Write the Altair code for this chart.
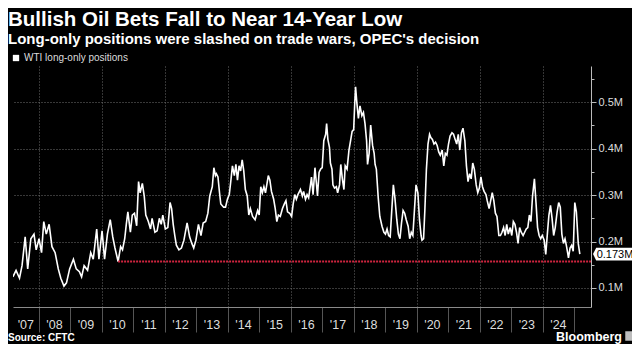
import altair as alt
import pandas as pd
import numpy as np

# ---------------- data ----------------
series_name = "WTI long-only positions"

# decimal years
dec_year = [
    2007.18, 2007.28, 2007.39, 2007.47, 2007.57, 2007.65, 2007.75, 2007.85, 2007.92,
    2008.01, 2008.09, 2008.16, 2008.24, 2008.33, 2008.42, 2008.52, 2008.62, 2008.70, 2008.80, 2008.88, 2008.98,
    2009.10, 2009.19, 2009.29, 2009.36, 2009.44, 2009.55, 2009.65, 2009.73, 2009.84, 2009.91,
    2010.01, 2010.09, 2010.18, 2010.27, 2010.35, 2010.42, 2010.52, 2010.60, 2010.66, 2010.73, 2010.78, 2010.83, 2010.91, 2010.97,
    2011.04, 2011.11, 2011.17, 2011.22, 2011.29, 2011.35, 2011.40, 2011.48, 2011.55, 2011.60, 2011.69, 2011.76, 2011.83, 2011.89, 2011.94,
    2012.02, 2012.10, 2012.17, 2012.22, 2012.27, 2012.32, 2012.37, 2012.45, 2012.53, 2012.61, 2012.71, 2012.79, 2012.86, 2012.92, 2012.99,
    2013.07, 2013.15, 2013.22, 2013.30, 2013.37, 2013.43, 2013.51, 2013.56, 2013.61, 2013.64, 2013.69, 2013.74, 2013.78, 2013.87, 2013.93, 2013.99,
    2014.05, 2014.09, 2014.15, 2014.21, 2014.26, 2014.31, 2014.36, 2014.41, 2014.46, 2014.51, 2014.56, 2014.62, 2014.67, 2014.72, 2014.79, 2014.87, 2014.95,
    2015.00, 2015.05, 2015.10, 2015.15, 2015.20, 2015.29, 2015.34, 2015.39, 2015.46, 2015.51, 2015.56, 2015.61, 2015.67, 2015.74, 2015.80, 2015.85, 2015.90, 2015.97,
    2016.03, 2016.08, 2016.13, 2016.18, 2016.23, 2016.31, 2016.37, 2016.41, 2016.47, 2016.52, 2016.57, 2016.62, 2016.66, 2016.71, 2016.77, 2016.82, 2016.85, 2016.90, 2016.95,
    2017.00, 2017.05, 2017.11, 2017.14, 2017.18, 2017.23, 2017.26, 2017.31, 2017.34, 2017.39, 2017.45, 2017.49, 2017.55, 2017.59, 2017.64, 2017.69, 2017.73, 2017.79, 2017.85, 2017.90, 2017.95,
    2018.00, 2018.03, 2018.06, 2018.10, 2018.15, 2018.20, 2018.26, 2018.31, 2018.36, 2018.41, 2018.44, 2018.49, 2018.54, 2018.60, 2018.65, 2018.68, 2018.72, 2018.78, 2018.83, 2018.90, 2018.96,
    2019.01, 2019.06, 2019.11, 2019.16, 2019.21, 2019.26, 2019.31, 2019.37, 2019.42, 2019.47, 2019.52, 2019.57, 2019.62, 2019.67, 2019.73, 2019.78, 2019.83, 2019.88, 2019.93, 2019.98,
    2020.04, 2020.09, 2020.14, 2020.17, 2020.22, 2020.26, 2020.31, 2020.36, 2020.41, 2020.45, 2020.50, 2020.55, 2020.60, 2020.65, 2020.70, 2020.75, 2020.81, 2020.86, 2020.91, 2020.96,
    2021.01, 2021.06, 2021.12, 2021.17, 2021.22, 2021.27, 2021.32, 2021.37, 2021.42, 2021.47, 2021.53, 2021.58, 2021.63, 2021.68, 2021.73, 2021.78, 2021.83, 2021.89, 2021.94, 2021.99,
    2022.04, 2022.09, 2022.14, 2022.20, 2022.24, 2022.30, 2022.35, 2022.40, 2022.45, 2022.50, 2022.55, 2022.61, 2022.66, 2022.71, 2022.76, 2022.81, 2022.86, 2022.91, 2022.97,
    2023.02, 2023.07, 2023.12, 2023.17, 2023.22, 2023.27, 2023.32, 2023.38, 2023.43, 2023.48, 2023.53, 2023.58, 2023.63, 2023.68, 2023.74, 2023.79, 2023.84, 2023.89, 2023.94, 2023.99,
    2024.05, 2024.10, 2024.15, 2024.20, 2024.25, 2024.30, 2024.35, 2024.40, 2024.46, 2024.51, 2024.56, 2024.61, 2024.66, 2024.71, 2024.76, 2024.82, 2024.87, 2024.92, 2024.97,
    2025.02, 2025.07, 2025.13, 2025.18,
]

# long-only positions, millions of contracts
positions_m = [
    0.124, 0.138, 0.121, 0.148, 0.210, 0.141, 0.206, 0.216, 0.182,
    0.206, 0.176, 0.243, 0.216, 0.237, 0.189, 0.176, 0.141, 0.121, 0.104, 0.111, 0.141,
    0.162, 0.141, 0.135, 0.124, 0.148, 0.138, 0.176, 0.162, 0.227, 0.162,
    0.223, 0.162, 0.216, 0.247, 0.210, 0.186, 0.157, 0.189, 0.182, 0.206, 0.237, 0.264, 0.220, 0.257,
    0.261, 0.234, 0.329, 0.305, 0.325, 0.298, 0.257, 0.243, 0.227, 0.250, 0.220, 0.223, 0.250, 0.237, 0.257,
    0.227, 0.230, 0.284, 0.271, 0.237, 0.213, 0.192, 0.182, 0.186, 0.203, 0.240, 0.210, 0.196, 0.186, 0.203,
    0.237, 0.213, 0.240, 0.243, 0.261, 0.298, 0.318, 0.359, 0.342, 0.346, 0.339, 0.305, 0.281, 0.274, 0.274, 0.291,
    0.301, 0.325, 0.363, 0.342, 0.366, 0.332, 0.363, 0.352, 0.376, 0.352, 0.312, 0.298, 0.257, 0.271, 0.254, 0.247, 0.267,
    0.257, 0.318, 0.305, 0.318, 0.305, 0.342, 0.332, 0.308, 0.291, 0.271, 0.243, 0.257, 0.254, 0.271, 0.281, 0.288, 0.264, 0.261,
    0.254, 0.281, 0.301, 0.291, 0.301, 0.312, 0.298, 0.308, 0.291, 0.301, 0.294, 0.318, 0.339, 0.301, 0.359, 0.322, 0.298, 0.349, 0.356,
    0.359, 0.417, 0.431, 0.454, 0.420, 0.403, 0.369, 0.356, 0.322, 0.315, 0.318, 0.305, 0.322, 0.366, 0.335, 0.312, 0.363, 0.356, 0.397, 0.417, 0.437,
    0.441, 0.492, 0.533, 0.499, 0.465, 0.492, 0.471, 0.478, 0.454, 0.417, 0.366, 0.390, 0.451, 0.407, 0.390, 0.366, 0.356, 0.294, 0.254, 0.233, 0.220,
    0.216, 0.227, 0.213, 0.210, 0.267, 0.322, 0.294, 0.247, 0.216, 0.206, 0.240, 0.267, 0.261, 0.247, 0.233, 0.206, 0.220, 0.213, 0.267, 0.322,
    0.305, 0.247, 0.213, 0.203, 0.206, 0.267, 0.356, 0.410, 0.431, 0.424, 0.420, 0.410, 0.414, 0.407, 0.393, 0.386, 0.397, 0.363, 0.390, 0.386,
    0.410, 0.427, 0.434, 0.431, 0.420, 0.410, 0.431, 0.397, 0.434, 0.444, 0.417, 0.363, 0.329, 0.346, 0.335, 0.369, 0.356, 0.322, 0.305, 0.315,
    0.339, 0.318, 0.308, 0.301, 0.288, 0.271, 0.288, 0.305, 0.288, 0.261, 0.254, 0.213, 0.213, 0.220, 0.230, 0.213, 0.237, 0.216, 0.230,
    0.213, 0.243, 0.237, 0.220, 0.196, 0.230, 0.220, 0.213, 0.220, 0.227, 0.230, 0.257, 0.243, 0.298, 0.335, 0.284, 0.230, 0.213, 0.206, 0.213,
    0.203, 0.172, 0.216, 0.257, 0.278, 0.250, 0.213, 0.230, 0.264, 0.284, 0.274, 0.216, 0.196, 0.206, 0.189, 0.165, 0.186, 0.192, 0.179,
    0.284, 0.264, 0.196, 0.173,
]

# 14-year low reference line (start date, level)
low_start = [2010.52]
low_level = [0.157]

year_labels = ["'07", "'08", "'09", "'10", "'11", "'12", "'13", "'14", "'15",
               "'16", "'17", "'18", "'19", "'20", "'21", "'22", "'23", "'24"]
label_years = list(range(2007, 2025))
tick_years = list(range(2008, 2026))
y_tick_values = [0.05, 0.10, 0.15, 0.20, 0.25, 0.30, 0.35, 0.40, 0.45, 0.50, 0.55]

title_text = "Bullish Oil Bets Fall to Near 14-Year Low"
subtitle_text = "Long-only positions were slashed on trade wars, OPEC's decision"
source_text = "Source: CFTC"
brand_text = "Bloomberg"

x_start = 2007.183
x_end = 2025.535
y_domain = [0.059, 0.578]

# ---------------- helpers ----------------
def to_ts(x):
    y = int(np.floor(x))
    a = pd.Timestamp(year=y, month=1, day=1)
    b = pd.Timestamp(year=y + 1, month=1, day=1)
    return (a + (b - a) * (x - y)).round("h")

def to_dt(x):
    ts = to_ts(x)
    return alt.DateTime(year=ts.year, month=ts.month, date=ts.day, hours=ts.hour)

W, H = 578, 241
FONT = "Liberation Sans"

df = pd.DataFrame({
    "date": [to_ts(t) for t in dec_year],
    "value": positions_m,
    "series": series_name,
})

low_df = pd.DataFrame({
    "date": [to_ts(t) for t in low_start],
    "end": [to_ts(x_end)],
    "value": low_level,
})

mids = []
for yr in label_years:
    a = max(float(yr), x_start)
    b = min(float(yr + 1), x_end)
    mids.append(to_ts((a + b) / 2))
years_df = pd.DataFrame({"date": mids, "label": year_labels})

last_df = pd.DataFrame({
    "value": [positions_m[-1]],
    "label": [f"{positions_m[-1]:.3f}M"],
})

x_scale = alt.Scale(domain=[to_dt(x_start), to_dt(x_end)])
y_scale = alt.Scale(domain=y_domain, nice=False, zero=False)

major_test = "abs(datum.value*10 - round(datum.value*10)) < 0.001"

x_axis = alt.Axis(
    values=[alt.DateTime(year=y, month=1, date=1) for y in tick_years],
    labels=False, title=None,
    tickSize=25, tickColor="#555555", tickWidth=1,
    domainColor="#8a8a8a", domainWidth=1,
    grid=True, gridColor="#6a6a6a", gridDash=[1, 2], gridWidth=1,
    gridOpacity={"condition": {"test": "year(datum.value) % 2 == 0", "value": 1}, "value": 0},
)

y_axis = alt.Axis(
    orient="right", values=y_tick_values, title=None,
    labelExpr=f"{major_test} ? format(datum.value, '.1f') + 'M' : ''",
    labelColor="#dddddd", labelFontSize=11, labelFont=FONT, labelPadding=2,
    tickColor="#bbbbbb",
    tickSize={"condition": {"test": major_test, "value": 5}, "value": 3},
    domainColor="#bbbbbb",
    grid=True, gridColor="#707070", gridDash=[1, 2], gridWidth=1,
    gridOpacity={"condition": {"test": major_test, "value": 1}, "value": 0},
)

X = alt.X("date:T", scale=x_scale, axis=x_axis)
Y = alt.Y("value:Q", scale=y_scale, axis=y_axis)

line = alt.Chart(df).mark_line(strokeWidth=1.6, clip=True).encode(
    x=X,
    y=Y,
    color=alt.Color(
        "series:N",
        scale=alt.Scale(range=["#ffffff"]),
        legend=alt.Legend(
            orient="none", legendX=-2, legendY=-13, title=None,
            symbolType="square", symbolSize=40, symbolFillColor="#ffffff",
            symbolStrokeColor="#ffffff", symbolStrokeWidth=0, symbolOffset=0,
            labelColor="#dddddd", labelFontSize=10, labelFont=FONT, labelOffset=3,
            padding=0,
        ),
    ),
)

low_rule = alt.Chart(low_df).mark_rule(color="#d0243f", strokeWidth=2, strokeDash=[2, 1]).encode(
    x=X,
    x2="end:T",
    y=Y,
)

year_text = alt.Chart(years_df).mark_text(
    color="#dddddd", fontSize=12.5, font=FONT, baseline="middle", align="center"
).encode(
    x=X,
    y=alt.value(H + 18),
    text="label:N",
)

box_path = "M-1,0 L-0.84,-0.32 L1,-0.32 L1,0.32 L-0.84,0.32 Z"
last_box = alt.Chart(last_df).mark_point(
    shape=box_path, size=1600, filled=True, color="#ffffff", opacity=1
).encode(
    x=alt.value(W + 22),
    y=Y,
)
last_text = alt.Chart(last_df).mark_text(
    color="#000000", fontSize=11, font=FONT, align="center", baseline="middle", dy=0.5
).encode(
    x=alt.value(W + 24),
    y=Y,
    text="label:N",
)

footer_df = pd.DataFrame({"source": [source_text], "brand": [brand_text]})
source = alt.Chart(footer_df).mark_text(
    color="#ffffff", fontSize=10, font=FONT, fontWeight="bold", align="left", baseline="alphabetic"
).encode(x=alt.value(-5), y=alt.value(H + 34), text="source:N")
brand = alt.Chart(footer_df).mark_text(
    color="#ffffff", fontSize=12.5, font=FONT, fontWeight="bold", align="right", baseline="alphabetic"
).encode(x=alt.value(W + 31), y=alt.value(H + 34), text="brand:N")
logo = alt.Chart(footer_df).mark_point(
    shape="square", size=90, filled=True, color="#bdbdbd", opacity=1
).encode(x=alt.value(W + 39), y=alt.value(H + 29))

chart = alt.layer(
    line, low_rule, year_text, last_box, last_text, source, brand, logo
).properties(
    width=W, height=H,
    autosize=alt.AutoSizeParams(type="none"),
    padding={"left": 5, "top": 58, "right": 41, "bottom": 37},
    background="#000000",
    title=alt.TitleParams(
        text=title_text, subtitle=subtitle_text,
        anchor="start", frame="group", dx=-5,
        font=FONT, fontSize=20.5, fontWeight="bold", color="#ffffff",
        subtitleFont=FONT, subtitleFontSize=15, subtitleFontWeight="bold", subtitleColor="#ffffff",
        subtitlePadding=2, offset=6,
    ),
).configure_view(stroke=None)

chart.save("out.html", embed_options={"renderer": "svg", "actions": False})
